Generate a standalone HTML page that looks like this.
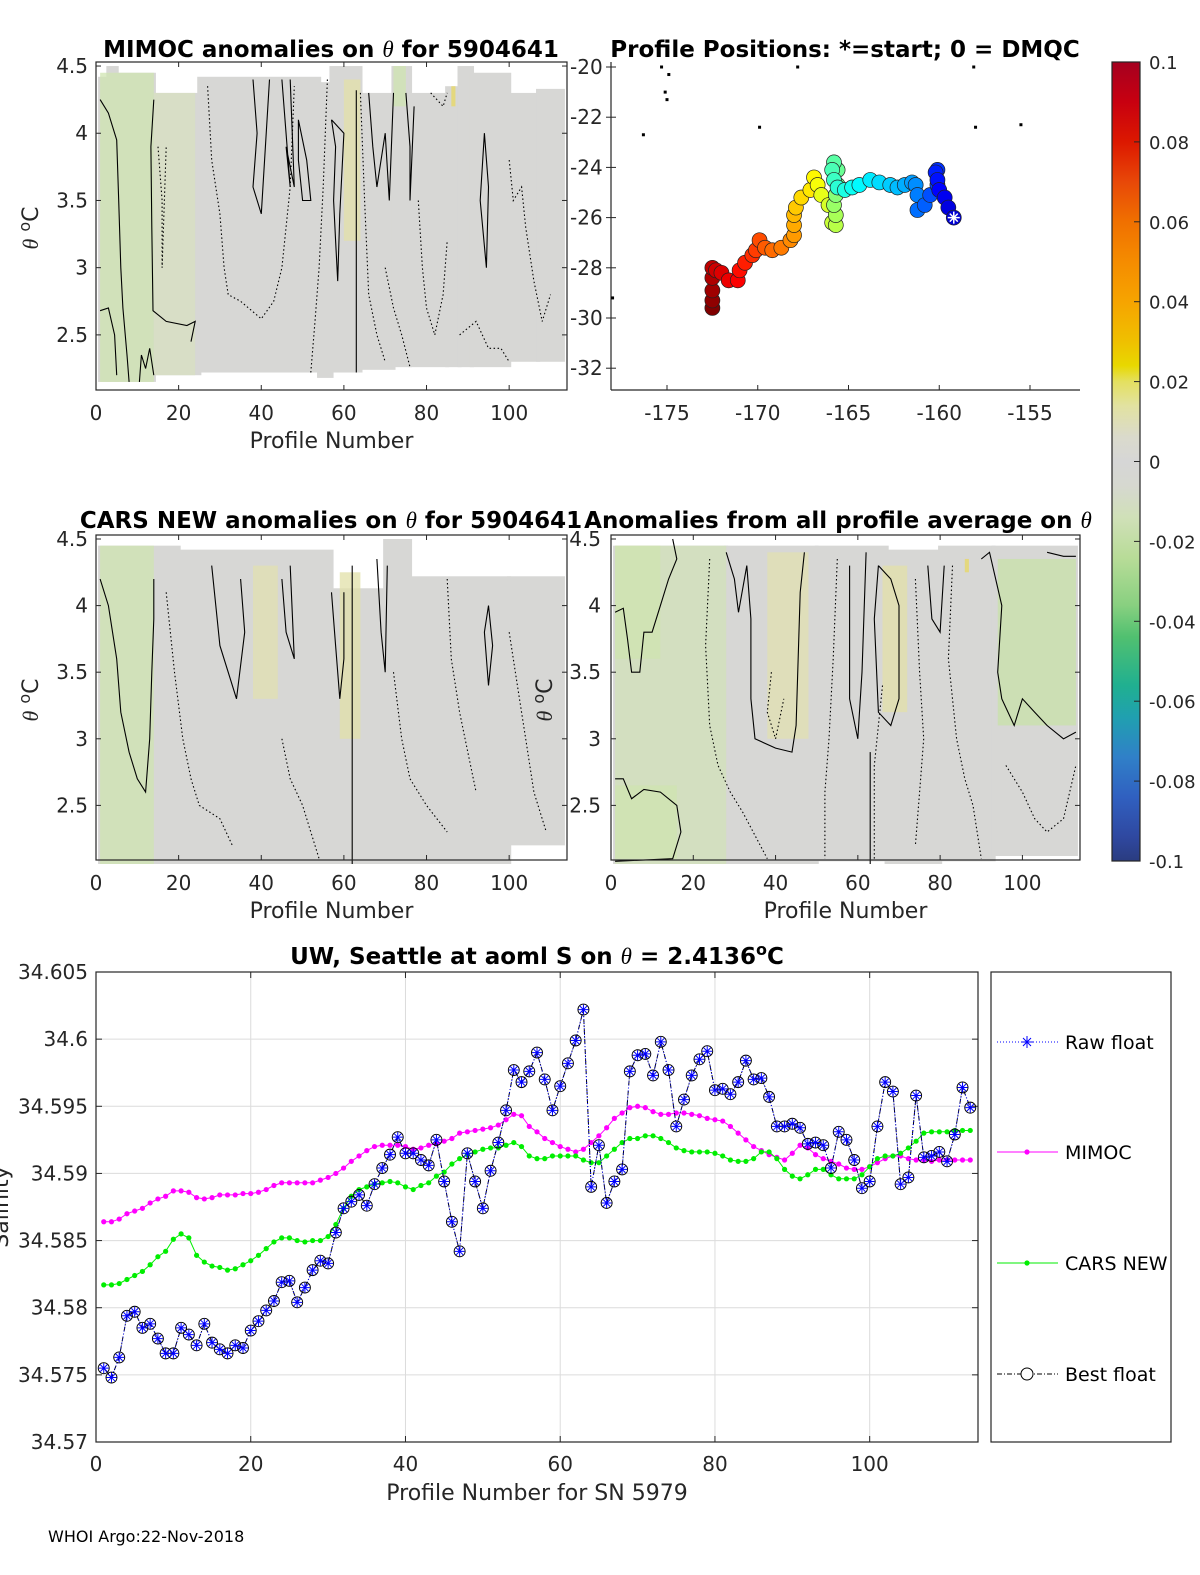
<!DOCTYPE html>
<html><head><meta charset="utf-8"><title>Argo float 5904641 anomalies</title>
<style>
html,body{margin:0;padding:0;background:#fff;}
svg{display:block;font-family:"DejaVu Sans","Liberation Sans",sans-serif;}
</style></head>
<body>
<svg id="fig" xmlns="http://www.w3.org/2000/svg" width="1200" height="1575" viewBox="0 0 1200 1575">
<defs>
<linearGradient id="cbgrad" x1="0" y1="0" x2="0" y2="1">
<stop offset="0" stop-color="#a50020"/><stop offset="0.05" stop-color="#c80010"/>
<stop offset="0.1" stop-color="#dc1800"/><stop offset="0.15" stop-color="#e84808"/>
<stop offset="0.2" stop-color="#f07000"/><stop offset="0.25" stop-color="#f58c00"/>
<stop offset="0.3" stop-color="#f6a400"/><stop offset="0.35" stop-color="#efc000"/>
<stop offset="0.38" stop-color="#e8d800"/><stop offset="0.4" stop-color="#e4e060"/>
<stop offset="0.43" stop-color="#e2e2a0"/><stop offset="0.47" stop-color="#dadacc"/>
<stop offset="0.5" stop-color="#d6d6d6"/><stop offset="0.53" stop-color="#d6d8d0"/>
<stop offset="0.57" stop-color="#d0e0b8"/><stop offset="0.62" stop-color="#b8dc98"/>
<stop offset="0.68" stop-color="#88d080"/><stop offset="0.72" stop-color="#50c070"/>
<stop offset="0.78" stop-color="#20b090"/><stop offset="0.82" stop-color="#20a0b0"/>
<stop offset="0.87" stop-color="#3080c8"/><stop offset="0.92" stop-color="#3060c0"/>
<stop offset="0.97" stop-color="#2f48a0"/><stop offset="1" stop-color="#2a3c80"/>
</linearGradient>
</defs>
</svg>
<script>
// ---------- bottom chart data ----------
const bestFloat = [34.5755,34.5748,34.5763,34.5794,34.5797,34.5785,34.5788,34.5777,34.5766,34.5766,34.5785,34.5780,34.5772,34.5788,34.5774,34.5769,34.5766,34.5772,34.5770,34.5783,34.5790,34.5798,34.5805,34.5819,34.5820,34.5804,34.5815,34.5828,34.5835,34.5833,34.5856,34.5874,34.5879,34.5884,34.5876,34.5892,34.5904,34.5914,34.5927,34.5915,34.5915,34.5910,34.5906,34.5925,34.5894,34.5864,34.5842,34.5915,34.5894,34.5874,34.5902,34.5923,34.5947,34.5977,34.5968,
34.5976,34.5990,34.5970,34.5947,34.5965,34.5982,34.5999,34.6022,34.5890,34.5921,34.5878,34.5894,34.5903,34.5976,34.5988,34.5989,34.5973,34.5998,34.5977,34.5935,34.5955,34.5973,34.5985,34.5991,34.5962,34.5963,34.5959,34.5968,34.5984,34.5970,34.5971,34.5957,34.5935,34.5935,34.5937,34.5934,34.5922,34.5923,34.5921,34.5904,34.5931,34.5925,34.5910,34.5889,34.5894,34.5935,34.5968,34.5961,34.5892,34.5897,34.5958,34.5912,34.5913,34.5916,34.5909,34.5929,34.5964,34.5949];
const rawFloat = bestFloat.slice();
const mimoc = [34.5864,34.5864,34.5866,34.5870,34.5872,34.5874,34.5878,34.5881,34.5883,34.5887,34.5887,34.5886,34.5882,34.5881,34.5882,34.5884,34.5884,34.5884,34.5885,34.5885,34.5886,34.5888,34.5891,34.5893,34.5893,34.5893,34.5893,34.5893,34.5895,34.5897,34.5900,34.5904,34.5909,34.5913,34.5917,34.5920,34.5921,34.5921,34.5921,34.5920,34.5918,34.5919,34.5921,34.5922,34.5924,34.5926,34.5930,34.5931,34.5932,34.5933,34.5934,34.5936,34.5940,34.5944,34.5943,
34.5935,34.5931,34.5926,34.5923,34.5920,34.5918,34.5916,34.5918,34.5923,34.5928,34.5934,34.5941,34.5945,34.5949,34.5950,34.5949,34.5946,34.5944,34.5944,34.5945,34.5945,34.5944,34.5943,34.5941,34.5940,34.5939,34.5935,34.5930,34.5925,34.5920,34.5917,34.5914,34.5912,34.5910,34.5915,34.5921,34.5919,34.5914,34.5911,34.5909,34.5907,34.5904,34.5903,34.5903,34.5905,34.5908,34.5911,34.5913,34.5913,34.5911,34.5910,34.5910,34.5909,34.5910,34.5910,34.5910,34.5910,34.5910];
const carsNew = [34.5817,34.5817,34.5818,34.5821,34.5824,34.5827,34.5832,34.5838,34.5842,34.5851,34.5855,34.5852,34.5839,34.5834,34.5831,34.5830,34.5828,34.5829,34.5832,34.5835,34.5839,34.5844,34.5849,34.5852,34.5852,34.5850,34.5849,34.5850,34.5850,34.5853,34.5862,34.5874,34.5883,34.5888,34.5890,34.5892,34.5893,34.5894,34.5893,34.5890,34.5888,34.5891,34.5893,34.5898,34.5901,34.5907,34.5911,34.5914,34.5916,34.5918,34.5919,34.5919,34.5921,34.5923,34.5920,
34.5913,34.5911,34.5911,34.5913,34.5913,34.5913,34.5913,34.5910,34.5908,34.5908,34.5913,34.5918,34.5923,34.5926,34.5926,34.5928,34.5928,34.5926,34.5923,34.5919,34.5917,34.5916,34.5916,34.5916,34.5915,34.5913,34.5910,34.5909,34.5909,34.5911,34.5916,34.5916,34.5911,34.5903,34.5898,34.5896,34.5899,34.5903,34.5903,34.5899,34.5896,34.5896,34.5896,34.5899,34.5905,34.5911,34.5913,34.5913,34.5915,34.5919,34.5924,34.5930,34.5931,34.5931,34.5931,34.5932,34.5932,34.5932];
const salTicks = [34.57,34.575,34.58,34.585,34.59,34.595,34.6,34.605];
const salTickLabels = ["34.57","34.575","34.58","34.585","34.59","34.595","34.6","34.605"];
const profTicks = [0,20,40,60,80,100];
// ---------- map data ----------
const trackLon = [-159.2,-159.5,-159.7,-160.0,-160.1,-160.2,-160.1,-160.1,-160.5,-160.8,-161.2,-161.2,-161.3,-161.5,-161.9,-162.3,-162.7,-163.3,-163.8,-164.4,-164.8,-165.2,-165.6,-165.8,-165.9,-165.8,-165.6,-165.6,-165.7,-165.8,-165.7,-165.7,-165.9,-166.1,-166.5,-166.7,-166.9,-167.1,-167.6,-167.9,-168.0,-168.0,-168.0,-168.2,-168.7,-169.2,-169.6,-169.9,-170.1,-170.3,-170.7,-171.0,-171.1,-171.6,-172.0,-172.3,-172.5,-172.5,-172.5,-172.5,-172.5];
const trackLat = [-26.0,-25.6,-25.2,-24.9,-24.5,-24.2,-24.1,-24.7,-25.1,-25.5,-25.7,-25.1,-24.7,-24.6,-24.7,-24.8,-24.7,-24.6,-24.5,-24.7,-24.8,-24.9,-24.8,-24.5,-24.1,-23.8,-24.1,-24.7,-25.1,-25.5,-25.9,-26.3,-26.2,-25.5,-25.1,-24.7,-24.4,-24.9,-25.2,-25.6,-25.9,-26.3,-26.7,-26.9,-27.2,-27.3,-27.2,-26.9,-27.3,-27.5,-27.8,-28.1,-28.5,-28.5,-28.2,-28.1,-28.0,-28.4,-28.9,-29.3,-29.6];
const islandLon = [-175.3,-175.1,-174.9,-175.0,-176.3,-169.9,-167.8,-158.1,-158.0,-155.5,-178.0];
const islandLat = [-20.0,-21.0,-20.3,-21.3,-22.7,-22.4,-20.0,-20.0,-22.4,-22.3,-29.2];
const lonTicks = [-175,-170,-165,-160,-155];
const latTicks = [-20,-22,-24,-26,-28,-30,-32];
// ---------- heatmap panel data (profile coverage, theta) ----------
const p1ColStart = [1,3,5,14,25,54,57,64,72,76,85,88,91,100,107];
const p1ColEnd   = [3,5,14,25,54,57,64,72,76,85,88,91,100,107,113];
const p1Top      = [4.42,4.5,4.45,4.3,4.42,4.38,4.5,4.3,4.5,4.3,4.35,4.5,4.45,4.3,4.33];
const p1Bot      = [2.15,2.15,2.15,2.2,2.22,2.18,2.22,2.24,2.26,2.26,2.26,2.26,2.26,2.3,2.3];
const p3ColStart = [1,20,57,70,76,100];
const p3ColEnd   = [20,57,70,76,100,113];
const p3Top      = [4.45,4.42,4.13,4.5,4.22,4.22];
const p3Bot      = [2.06,2.06,2.06,2.06,2.06,2.2];
const p4ColStart = [1,28,50,67,80,93];
const p4ColEnd   = [28,50,67,80,93,113];
const p4Top      = [4.45,4.45,4.45,4.42,4.45,4.45];
const p4Bot      = [2.06,2.06,2.08,2.06,2.08,2.12];
const ccTicks = [0.1,0.08,0.06,0.04,0.02,0,-0.02,-0.04,-0.06,-0.08,-0.1];
const thetaTicks = [2.5,3,3.5,4,4.5];

const NS = "http://www.w3.org/2000/svg";
const svg = document.getElementById('fig');
function mk(tag, attrs, parent){ const e=document.createElementNS(NS,tag); for(const k in attrs) e.setAttribute(k,attrs[k]); (parent||svg).appendChild(e); return e; }
function txt(x,y,s,attrs,parent){ const t=mk('text',Object.assign({x:x,y:y,fill:'#262626','font-size':20},attrs||{}),parent); t.textContent=s; return t; }

// ================= heatmap panels =================
function heatPanel(name, X0, Y0, W, H, cs, ce, tp, bt, tints, contours, leftLabels){
  const g = mk('g',{});
  
  
  const xs = p => X0 + p/114*W;
  const ys = t => Y0 + (4.53 - t)/(4.53-2.09)*H;
  for(let i=0;i<cs.length;i++){
    const r = mk('rect',{x:xs(cs[i]-0.5),y:ys(tp[i]),width:xs(ce[i]+0.5)-xs(cs[i]-0.5),height:ys(bt[i])-ys(tp[i]),fill:'#d7d7d5'},g);
    
    
  }
  tints.forEach(tn=>{
    const r = mk('rect',{x:xs(tn[0]),y:ys(tn[3]),width:xs(tn[1])-xs(tn[0]),height:ys(tn[2])-ys(tn[3]),fill:tn[4],opacity:0.75},g);
    
    
  });
  contours.forEach(c=>{
    const pts=[]; for(let i=0;i<c.p.length;i+=2) pts.push(xs(c.p[i]).toFixed(1)+','+ys(c.p[i+1]).toFixed(1));
    const l = mk('polyline',{points:pts.join(' '),fill:'none',stroke:'#000','stroke-width':1.1,'stroke-dasharray':c.d?'1.5,2.5':'none'},g);
    
    
  });
  mk('rect',{x:X0,y:Y0,width:W,height:H,fill:'none',stroke:'#262626','stroke-width':1.2},g);
  profTicks.forEach(v=>{
    mk('line',{x1:xs(v),x2:xs(v),y1:Y0+H,y2:Y0+H-5,stroke:'#262626'},g);
    mk('line',{x1:xs(v),x2:xs(v),y1:Y0,y2:Y0+5,stroke:'#262626'},g);
    const t=txt(xs(v),Y0+H+30,String(v),{'text-anchor':'middle'},g);
    
    
  });
  thetaTicks.forEach(v=>{
    mk('line',{x1:X0,x2:X0+5,y1:ys(v),y2:ys(v),stroke:'#262626'},g);
    mk('line',{x1:X0+W,x2:X0+W-5,y1:ys(v),y2:ys(v),stroke:'#262626'},g);
    if(leftLabels){
      const t=txt(X0-8,ys(v)+7,String(v),{'text-anchor':'end'},g);
      
      
    }
  });
  const xl = txt(X0+W/2, Y0+H+58, 'Profile Number', {'text-anchor':'middle','font-size':22}, g);
  
  
  return {xs,ys};
}
const contours1 = [
 {p:[1,4.25,3,4.15,5,3.95,5.5,3.5,6,3.0,6.5,2.7,7.5,2.35,8,2.15]},
 {p:[14,4.25,13.3,3.9,13.5,3.3,13.8,2.68,17,2.6,22,2.57,24,2.6,23,2.45]},
 {p:[1,2.68,3,2.7,4.5,2.5,5,2.2]},
 {p:[10.5,2.15,11,2.35,12,2.25,13,2.4,14,2.2]},
 {p:[63,4.32,63,2.22]},
 {p:[38,4.4,39,4.0,38,3.6,40,3.4,42,4.4]},
 {p:[45,4.4,47,3.6,46,3.9,48,3.6,47,4.4]},
 {p:[49,4.1,51,3.8,52,3.5,50,3.5,49,3.8,49,4.1]},
 {p:[57,4.1,58,3.9,57.5,3.5,58,3.2,58.5,2.9,59,3.4,60,4.0,57,4.1]},
 {p:[66,4.3,67,3.9,68,3.6,70,4.0,71,3.5,72,4.3]},
 {p:[75,4.3,76,3.9,76,3.5,77,4.2]},
 {p:[94,4.0,95,3.6,94.5,3.0,93,3.5,94,4.0]},
 {p:[27,4.35,28,3.8,30,3.4,31,3.0,32,2.8,35,2.75,40,2.62,43,2.75,45,3.0,47,3.6,48,4.35],d:1},
 {p:[15,3.9,16,3.5,16,3.0,17,3.9],d:1},
 {p:[56,4.4,55,3.6,54,3.0,53,2.6,52,2.22],d:1},
 {p:[70,3.0,72,2.7,74,2.5,76,2.26],d:1},
 {p:[78,3.5,79,3.0,80,2.7,82,2.5,84,2.8,85,3.2],d:1},
 {p:[88,2.5,92,2.6,95,2.4,98,2.4,100,2.3],d:1},
 {p:[100,3.8,101,3.5,103,3.6,104,3.3,106,2.9,108,2.6,110,2.8],d:1},
 {p:[64,4.3,65,3.5,66,2.8,68,2.5,70,2.3],d:1},
 {p:[81,4.3,84,4.2,85,4.3],d:1}
];
const tints1 = [[1,14,2.15,4.45,'#cfe4b0'],[14,24,2.2,4.3,'#d8e0c0'],[60,64,3.2,4.4,'#e3e0a8'],[72,75,4.2,4.5,'#cfe4b0'],[86,87,4.2,4.35,'#e8d860']];
heatPanel('mimoc-anomaly-panel',96,62,471,328,p1ColStart,p1ColEnd,p1Top,p1Bot,tints1,contours1,true);

const contours3 = [
 {p:[1,4.2,3,4.0,5,3.6,6,3.2,8,2.9,10,2.7,12,2.6,13,3.0,13.5,3.5,14,3.9,14,4.2]},
 {p:[62,4.3,62,2.06]},
 {p:[28,4.3,29,4.0,30,3.7,32,3.5,34,3.3,36,3.8,35,4.2]},
 {p:[45,4.2,46,3.8,48,3.6,47,4.3]},
 {p:[57,4.1,58,3.7,59,3.3,60,3.6,60,4.1]},
 {p:[68,4.35,69,3.8,70,3.5,70.5,4.3]},
 {p:[95,4.0,96,3.7,95,3.4,94,3.8,95,4.0]},
 {p:[17,4.1,19,3.5,21,3.0,23,2.7,25,2.5,30,2.4,33,2.2],d:1},
 {p:[45,3.0,47,2.7,50,2.5,52,2.3,54,2.1],d:1},
 {p:[72,3.5,74,3.0,76,2.7,80,2.5,85,2.3],d:1},
 {p:[85,4.2,86,3.6,88,3.2,90,2.9,92,2.6],d:1},
 {p:[100,3.8,102,3.4,104,3.0,106,2.6,109,2.3],d:1}
];
const tints3 = [[1,14,2.06,4.45,'#cfe4b0'],[38,44,3.3,4.3,'#e2e0b0'],[59,64,3.0,4.25,'#e2e0a8']];
heatPanel('cars-new-anomaly-panel',96,535,471,325,p3ColStart,p3ColEnd,p3Top,p3Bot,tints3,contours3,true);

const contours4 = [
 {p:[1,3.95,3,3.98,4,3.75,5,3.5,7,3.5,8,3.8,10,3.8,12,4.0,14,4.2,16,4.35,15,4.5]},
 {p:[1,2.7,3,2.7,5,2.55,8,2.62,12,2.6,16,2.5,17,2.3,15,2.1,1,2.08]},
 {p:[28,4.4,30,4.2,31,3.95,33,4.3,34,3.9,34,3.3,35,3.0,40,2.93,44,2.9,45,3.1,46,4.1,47,4.4]},
 {p:[58,4.3,58,3.3,60,3.0,61,3.5,62,4.4]},
 {p:[65,4.3,64,3.9,65,3.2,68,3.1,70,3.3,70,4.0,68,4.2,65,4.3]},
 {p:[77,4.3,78,3.9,80,3.8,81,4.3]},
 {p:[90,4.35,92,4.4,95,4.0,94,3.5,95,3.3,98,3.1,100,3.3,103,3.2,106,3.1,110,3.0,113,3.05]},
 {p:[106,4.4,110,4.37,113,4.37]},
 {p:[63,2.9,63,2.06]},
 {p:[39,3.5,38,3.2,40,3.0,42,3.3],d:1},
 {p:[24,4.35,23,3.7,24,3.1,26,2.8,29,2.6,32,2.45,38,2.1],d:1},
 {p:[55,4.35,54,3.6,53,3.0,52,2.6,52,2.1],d:1},
 {p:[74,4.2,75,3.5,76,3.0,75,2.6,74,2.2],d:1},
 {p:[83,4.3,82,3.6,84,3.0,86,2.7,88,2.5,90,2.1],d:1},
 {p:[96,2.8,100,2.6,103,2.4,106,2.3,110,2.4,113,2.8],d:1},
 {p:[66,3.4,64,2.8,64,2.1],d:1}
];
const tints4 = [[1,28,2.06,4.45,'#d2e2b8'],[1,16,2.1,2.65,'#cfe4b0'],[1,12,3.6,4.45,'#cfe4b0'],[38,48,3.0,4.4,'#e2e0b0'],[66,72,3.2,4.3,'#e3e0a8'],[94,113,3.1,4.35,'#c8e2a8'],[86,87,4.25,4.35,'#e8d860']];
heatPanel('all-profile-anomaly-panel',611,535,469,325,p4ColStart,p4ColEnd,p4Top,p4Bot,tints4,contours4,false);
thetaTicks.forEach(v=>{
  const y = 535 + (4.53 - v)/(4.53-2.09)*325;
  const t = txt(601, y+7, String(v), {'text-anchor':'end'});
  
  
});

[[38,228],[38,700],[552,700]].forEach(p=>{
  const t = mk('text',{x:0,y:0,transform:`translate(${p[0]},${p[1]}) rotate(-90)`,'text-anchor':'middle','font-size':22,fill:'#262626'});
  t.innerHTML = '<tspan font-family="Liberation Serif" font-style="italic">θ</tspan> <tspan dy="-8" font-size="16">o</tspan><tspan dy="8">C</tspan>';
  
  
});

function title(x,y,html,name){
  const t = mk('text',{x:x,y:y,'text-anchor':'middle','font-size':23,'font-weight':'bold',fill:'#000'});
  t.innerHTML = html;
  
  
}
const TH = '<tspan font-family="Liberation Serif" font-style="italic" font-weight="normal">θ</tspan>';
title(331,57,'MIMOC anomalies on '+TH+'  for 5904641','mimoc-panel-title');
title(845,57,'Profile Positions: *=start; 0 = DMQC','map-title');
title(331,528,'CARS NEW anomalies on '+TH+' for 5904641','cars-panel-title');
title(838,528,'Anomalies from all profile average on '+TH,'all-profile-panel-title');
title(537,964,'UW, Seattle at aoml S on '+TH+' = 2.4136<tspan dy="-9" font-size="16">o</tspan><tspan dy="9">C</tspan>','salinity-chart-title');

// ================= map =================
(function(){
  const X0=611,Y0=62,W=469,H=328;
  const xs = lon => 667 + (lon+175)*18.15;
  const ys = lat => 67 + (-20-lat)*25.1;
  const g = mk('g',{});
  
  
  mk('line',{x1:X0,y1:Y0,x2:X0,y2:Y0+H,stroke:'#262626','stroke-width':1.2},g);
  mk('line',{x1:X0,y1:Y0+H,x2:X0+W,y2:Y0+H,stroke:'#262626','stroke-width':1.2},g);
  lonTicks.forEach(v=>{
    mk('line',{x1:xs(v),x2:xs(v),y1:Y0+H,y2:Y0+H-5,stroke:'#262626'},g);
    const t=txt(xs(v),Y0+H+30,String(v),{'text-anchor':'middle'},g);
    
    
  });
  latTicks.forEach(v=>{
    mk('line',{x1:X0,x2:X0+5,y1:ys(v),y2:ys(v),stroke:'#262626'},g);
    mk('line',{x1:X0-5,x2:X0,y1:ys(v),y2:ys(v),stroke:'#262626'},g);
    const t=txt(570,ys(v)+7,String(v),{'text-anchor':'start'},g);
    
    
  });
  for(let i=0;i<islandLon.length;i++){
    const r=mk('rect',{x:xs(islandLon[i])-1.5,y:ys(islandLat[i])-1.5,width:3,height:3,fill:'#000'},g);
    
    
  }
  function jet(f){
    const r=Math.min(1,Math.max(0,1.5-Math.abs(4*f-3)));
    const gg=Math.min(1,Math.max(0,1.5-Math.abs(4*f-2)));
    const b=Math.min(1,Math.max(0,1.5-Math.abs(4*f-1)));
    return `rgb(${Math.round(r*255)},${Math.round(gg*255)},${Math.round(b*255)})`;
  }
  const n=trackLon.length;
  for(let i=n-1;i>=0;i--){
    const c=mk('circle',{cx:xs(trackLon[i]),cy:ys(trackLat[i]),r:7.5,fill:jet(0.08+0.92*(i/(n-1))),stroke:'#222','stroke-width':0.7},g);
    
    
  }
  const sx=xs(trackLon[0]), sy=ys(trackLat[0]);
  const st=mk('path',{d:`M${sx-6},${sy}H${sx+6}M${sx},${sy-6}V${sy+6}M${sx-4},${sy-4}L${sx+4},${sy+4}M${sx-4},${sy+4}L${sx+4},${sy-4}`,stroke:'#fff','stroke-width':1.5},g);
  
  
})();

// ================= colorbar =================
(function(){
  const g=mk('g',{});
  
  
  mk('rect',{x:1112,y:62,width:28,height:799,fill:'url(#cbgrad)',stroke:'#262626','stroke-width':1.2},g);
  const ys=v=>62+(0.1-v)/0.2*799;
  ccTicks.forEach(v=>{
    mk('line',{x1:1134,x2:1140,y1:ys(v),y2:ys(v),stroke:'#262626'},g);
    const t=txt(1149,ys(v)+7,String(v),{'font-size':18},g);
    
    
  });
})();

// ================= salinity chart =================
(function(){
  const X0=96,Y0=972,W=882,H=470;
  const xs=p=>X0+p/114*W;
  const ys=v=>Y0+H-(v-34.57)/0.035*H;
  const g=mk('g',{});
  
  
  mk('rect',{x:X0,y:Y0,width:W,height:H,fill:'#fff'},g);
  profTicks.forEach(v=>{
    if(v>0) mk('line',{x1:xs(v),x2:xs(v),y1:Y0,y2:Y0+H,stroke:'#dcdcdc'},g);
    mk('line',{x1:xs(v),x2:xs(v),y1:Y0+H,y2:Y0+H-6,stroke:'#262626'},g);
    mk('line',{x1:xs(v),x2:xs(v),y1:Y0,y2:Y0+6,stroke:'#262626'},g);
    const t=txt(xs(v),Y0+H+29,String(v),{'text-anchor':'middle'},g);
    
    
  });
  salTicks.forEach((v,i)=>{
    if(i>0&&i<salTicks.length-1) mk('line',{x1:X0,x2:X0+W,y1:ys(v),y2:ys(v),stroke:'#dcdcdc'},g);
    mk('line',{x1:X0,x2:X0+6,y1:ys(v),y2:ys(v),stroke:'#262626'},g);
    mk('line',{x1:X0+W,x2:X0+W-6,y1:ys(v),y2:ys(v),stroke:'#262626'},g);
    const t=txt(88,ys(v)+7,salTickLabels[i],{'text-anchor':'end'},g);
    
    
  });
  mk('rect',{x:X0,y:Y0,width:W,height:H,fill:'none',stroke:'#262626','stroke-width':1.2},g);
  function line(vals,color,dash,name){
    const pts=vals.map((v,i)=>xs(i+1).toFixed(1)+','+ys(v).toFixed(1)).join(' ');
    const l=mk('polyline',{points:pts,fill:'none',stroke:color,'stroke-width':1,'stroke-dasharray':dash},g);
    
    
  }
  line(mimoc,'#ff00ff','none','mimoc-line');
  mimoc.forEach((v,i)=>{
    const c=mk('circle',{cx:xs(i+1),cy:ys(v),r:2.6,fill:'#ff00ff'},g);
    
    
  });
  line(carsNew,'#00ee00','none','cars-new-line');
  carsNew.forEach((v,i)=>{
    const c=mk('circle',{cx:xs(i+1),cy:ys(v),r:2.6,fill:'#00ee00'},g);
    
    
  });
  line(bestFloat,'#000','5,2,1,2','best-float-line');
  line(rawFloat,'#0000ff','1,2','raw-float-line');
  bestFloat.forEach((v,i)=>{
    const c=mk('circle',{cx:xs(i+1),cy:ys(v),r:5.5,fill:'none',stroke:'#000','stroke-width':0.9},g);
    
    
  });
  rawFloat.forEach((v,i)=>{
    const x=xs(i+1),y=ys(v);
    const p=mk('path',{d:`M${x-5},${y}H${x+5}M${x},${y-5}V${y+5}M${x-3.5},${y-3.5}L${x+3.5},${y+3.5}M${x-3.5},${y+3.5}L${x+3.5},${y-3.5}`,stroke:'#0000ff','stroke-width':1},g);
    
    
  });
  const xl=txt(X0+W/2,1500,'Profile Number for SN 5979',{'text-anchor':'middle','font-size':22},g);
  
  
  const yl=mk('text',{x:0,y:0,transform:'translate(8,1207) rotate(-90)','text-anchor':'middle','font-size':22,fill:'#262626'},g);
  yl.textContent='Salinity';
  
  
})();

// ================= legend =================
(function(){
  const g=mk('g',{});
  
  
  mk('rect',{x:991,y:972,width:180,height:470,fill:'#fff',stroke:'#262626','stroke-width':1.2},g);
  const entries=[['Raw float',1042],['MIMOC',1152],['CARS NEW',1263],['Best float',1374]];
  entries.forEach((e,i)=>{
    const eg=mk('g',{},g);
    
    
    const y=e[1], mx=1027;
    if(i===0){
      mk('line',{x1:997,x2:1058,y1:y,y2:y,stroke:'#0000ff','stroke-dasharray':'1,2'},eg);
      mk('path',{d:`M${mx-6},${y}H${mx+6}M${mx},${y-6}V${y+6}M${mx-4},${y-4}L${mx+4},${y+4}M${mx-4},${y+4}L${mx+4},${y-4}`,stroke:'#0000ff'},eg);
    } else if(i===1){
      mk('line',{x1:997,x2:1058,y1:y,y2:y,stroke:'#ff00ff'},eg);
      mk('circle',{cx:mx,cy:y,r:2.6,fill:'#ff00ff'},eg);
    } else if(i===2){
      mk('line',{x1:997,x2:1058,y1:y,y2:y,stroke:'#00ee00'},eg);
      mk('circle',{cx:mx,cy:y,r:2.6,fill:'#00ee00'},eg);
    } else {
      mk('line',{x1:997,x2:1058,y1:y,y2:y,stroke:'#000','stroke-dasharray':'5,2,1,2'},eg);
      mk('circle',{cx:mx,cy:y,r:6,fill:'#fff',stroke:'#000'},eg);
    }
    txt(1065,y+7,e[0],{'font-size':19,fill:'#000'},eg);
  });
})();

const foot=txt(48,1542,'WHOI Argo:22-Nov-2018',{'font-size':16,fill:'#000'});


</script>
</body></html>
